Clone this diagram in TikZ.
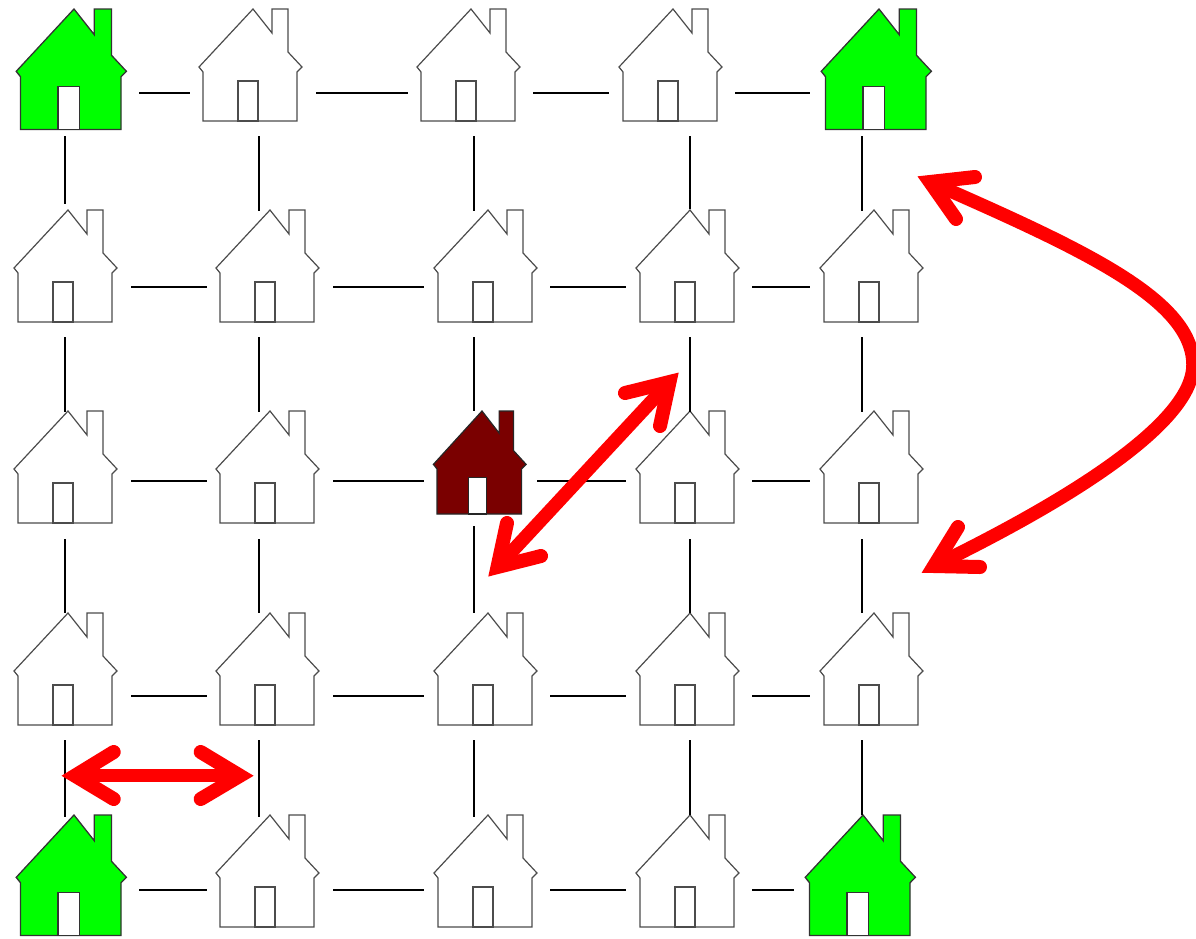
\documentclass[tikz,border=0pt]{standalone}
\usetikzlibrary{fit}
\definecolor{hgreen}{RGB}{0,255,0}
\definecolor{hdark}{RGB}{122,0,0}
\definecolor{hred}{RGB}{255,0,0}
\tikzset{
  plainhouse/.style={},
  greenhouse/.style={xscale=1.07,yscale=1.075},
  darkhouse/.style={xscale=.9,yscale=.92},
  tile/.style={inner sep=0pt,outer sep=0pt},
  link/.style={line width=1.3pt,black},
  redarrow/.style={line width=14pt,hred,line cap=round,miter limit=10},
  redshaft/.style={line width=13.5pt,hred,line cap=butt},
}
% scope style, body fill, outline, peak x, peak y, outline width
\newcommand\househere[6]{%
  \begin{scope}[shift={(#4,#5)},#1]
    \draw[fill=#2,draw=#3,line width=#6,line join=miter]
      (0,0) -- (19,24) -- (19,0) -- (35,0) -- (35,43) -- (49,58) -- (44,63)
      -- (44,112) -- (-50,112) -- (-50,63) -- (-54,58) -- cycle;
    \draw[fill=white,draw=#3,line width=#6] (-15,112) rectangle (5,72);
  \end{scope}}
\newcommand\whouse[7]{\househere{plainhouse}{white}{black!70}{#2}{#3}{1.2pt}\node[tile,fit={(#4,#5)(#6,#7)}] (#1) {};}
\newcommand\ghouse[7]{\househere{greenhouse}{hgreen}{black!80}{#2}{#3}{1.3pt}\node[tile,fit={(#4,#5)(#6,#7)}] (#1) {};}
\newcommand\dhouse[7]{\househere{darkhouse}{hdark}{black!85}{#2}{#3}{1.2pt}\node[tile,fit={(#4,#5)(#6,#7)}] (#1) {};}
\newcommand\hlink[3]{\draw[link] (#1.east |- 0,#3) -- (#2.west |- 0,#3);}
\newcommand\vlink[3]{\draw[link] (#3,0 |- #1.south) -- (#3,0 |- #2.north);}
\begin{document}
\begin{tikzpicture}[x=1pt,y=-1pt]
\useasboundingbox (0,0) rectangle (1196,938);
% row 1
\ghouse{h11}{74}{9}{0}{0}{139}{136}
\whouse{h12}{253}{9}{190}{0}{316}{136}
\whouse{h13}{471}{9}{408}{0}{533}{136}
\whouse{h14}{673}{9}{609}{0}{735}{136}
\ghouse{h15}{879}{9}{810}{0}{930}{136}
% row 2
\whouse{h21}{68}{210}{0}{204}{131}{337}
\whouse{h22}{270}{210}{207}{211}{333}{337}
\whouse{h23}{488}{210}{424}{211}{550}{337}
\whouse{h24}{690}{210}{626}{209}{752}{337}
\whouse{h25}{874}{210}{810}{211}{930}{337}
% row 3
\whouse{h31}{68}{411}{0}{412}{131}{539}
\whouse{h32}{270}{411}{207}{412}{333}{539}
\dhouse{h33}{482}{411}{424}{411}{537}{526}
\whouse{h34}{690}{411}{626}{412}{752}{539}
\whouse{h35}{874}{411}{810}{412}{930}{539}
% row 4
\whouse{h41}{68}{613}{0}{613}{131}{740}
\whouse{h42}{270}{613}{207}{613}{333}{740}
\whouse{h43}{488}{613}{424}{613}{550}{740}
\whouse{h44}{690}{613}{626}{613}{752}{740}
\whouse{h45}{874}{613}{810}{613}{930}{740}
% row 5
\ghouse{h51}{74}{815}{0}{817}{139}{938}
\whouse{h52}{270}{815}{207}{817}{333}{938}
\whouse{h53}{488}{815}{424}{817}{550}{938}
\whouse{h54}{690}{815}{626}{815}{752}{938}
\ghouse{h55}{863}{815}{794}{815}{930}{938}
% horizontal connectors
\hlink{h11}{h12}{93}\hlink{h12}{h13}{93}\hlink{h13}{h14}{93}\hlink{h14}{h15}{93}
\hlink{h21}{h22}{287}\hlink{h22}{h23}{287}\hlink{h23}{h24}{287}\hlink{h24}{h25}{287}
\hlink{h31}{h32}{481}\hlink{h32}{h33}{481}\hlink{h33}{h34}{481}\hlink{h34}{h35}{481}
\hlink{h41}{h42}{696}\hlink{h42}{h43}{696}\hlink{h43}{h44}{696}\hlink{h44}{h45}{696}
\hlink{h51}{h52}{890}\hlink{h52}{h53}{890}\hlink{h53}{h54}{890}\hlink{h54}{h55}{890}
% vertical connectors
\vlink{h11}{h21}{65}\vlink{h12}{h22}{259}\vlink{h13}{h23}{474}\vlink{h14}{h24}{690}\vlink{h15}{h25}{862}
\vlink{h21}{h31}{65}\vlink{h22}{h32}{259}\vlink{h23}{h33}{474}\vlink{h24}{h34}{690}\vlink{h25}{h35}{862}
\vlink{h31}{h41}{65}\vlink{h32}{h42}{259}\vlink{h33}{h43}{474}\vlink{h34}{h44}{690}\vlink{h35}{h45}{862}
\vlink{h41}{h51}{65}\vlink{h42}{h52}{259}\vlink{h43}{h53}{474}\vlink{h44}{h54}{690}\vlink{h45}{h55}{862}
% red arrows
\coordinate (aL) at (75,775.7);
\coordinate (aR) at (240,775.7);
\draw[redshaft] (aL) -- (aR);
\draw[redarrow] (113.7,752) -- (aL) -- (113.7,799);
\draw[redarrow] (200.7,752) -- (aR) -- (200.7,799);
\coordinate (bNE) at (669.5,382);
\coordinate (bSW) at (497.5,567);
\draw[redshaft] (bNE) -- (bSW);
\draw[redarrow] (625,393) -- (bNE) -- (660,426);
\draw[redarrow] (507,523) -- (bSW) -- (541,556);
\coordinate (cT) at (930,182);
\coordinate (cB) at (934,566);
\draw[redshaft] (cT) .. controls (1085,250) and (1193,300) .. (1193,365)
   .. controls (1193,415) and (1100,485) .. (cB);
\draw[redarrow] (975,177) -- (cT) -- (956,219);
\draw[redarrow] (980,567) -- (cB) -- (958,527);
\end{tikzpicture}
\end{document}
